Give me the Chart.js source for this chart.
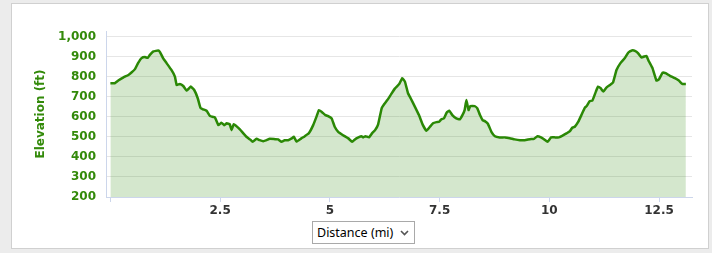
<!DOCTYPE html>
<html>
<head>
<meta charset="utf-8">
<script src="https://cdn.jsdelivr.net/npm/chart.js@4"></script>
<style>
  body { margin: 0; background: #ececec; width: 712px; height: 253px; overflow: hidden; }
  #panel { position: absolute; left: 11px; top: 3px; width: 696px; height: 244px; background: #fff; border: 1px solid #d0d0d0; }
  #elevation-chart { position: absolute; left: 0; top: 0; }
  #unit-select {
    position: absolute; left: 312px; top: 221px; width: 103px; height: 23px;
    font: 12.5px "Noto Sans", sans-serif; color: #000;
    border: 1px solid #a9a9a9; border-radius: 0; padding: 0 0 0 4px;
    -webkit-appearance: none; appearance: none;
    background: #fff url("data:image/svg+xml;utf8,<svg xmlns='http://www.w3.org/2000/svg' width='9' height='6'><path d='M1 1 L4.5 4.5 L8 1' fill='none' stroke='%23555' stroke-width='1.6'/></svg>") no-repeat right 5px center;
  }
</style>
</head>
<body>
<div id="panel"></div>
<canvas id="elevation-chart" width="712" height="253"></canvas>
<select id="unit-select"><option>Distance (mi)</option><option>Time</option></select>
<script>
// Elevation profile
const distanceMi = [
    0.00, 0.10, 0.18, 0.29, 0.41, 0.48, 0.56, 0.63, 0.71, 0.79, 0.85, 0.90, 0.98, 1.09, 1.13, 1.20,
    1.28, 1.39, 1.47, 1.51, 1.58, 1.66, 1.74, 1.83, 1.91, 1.99, 2.05, 2.11, 2.19, 2.27, 2.38, 2.46,
    2.53, 2.59, 2.65, 2.72, 2.76, 2.81, 2.87, 2.95, 3.03, 3.10, 3.18, 3.24, 3.33, 3.40, 3.48, 3.56,
    3.63, 3.75, 3.82, 3.90, 3.97, 4.05, 4.13, 4.18, 4.24, 4.35, 4.43, 4.52, 4.62, 4.70, 4.75, 4.81,
    4.90, 4.96, 5.04, 5.11, 5.19, 5.30, 5.42, 5.51, 5.57, 5.65, 5.72, 5.76, 5.81, 5.89, 5.96, 6.03,
    6.10, 6.18, 6.24, 6.31, 6.39, 6.48, 6.58, 6.65, 6.71, 6.78, 6.84, 6.93, 7.03, 7.12, 7.20, 7.28,
    7.35, 7.43, 7.49, 7.54, 7.60, 7.66, 7.72, 7.79, 7.88, 7.96, 8.02, 8.07, 8.11, 8.16, 8.20, 8.30,
    8.36, 8.42, 8.48, 8.53, 8.60, 8.68, 8.76, 8.87, 8.99, 9.10, 9.21, 9.33, 9.44, 9.56, 9.65, 9.73,
    9.81, 9.88, 9.96, 10.04, 10.13, 10.22, 10.32, 10.39, 10.47, 10.52, 10.58, 10.66, 10.73, 10.81, 10.85, 10.92,
    10.98, 11.06, 11.11, 11.17, 11.23, 11.30, 11.38, 11.45, 11.53, 11.62, 11.72, 11.80, 11.88, 11.95, 12.02, 12.10,
    12.16, 12.21, 12.27, 12.35, 12.44, 12.50, 12.58, 12.65, 12.74, 12.86, 12.95, 13.03, 13.11
];
const elevationFt = [
    767, 767, 780, 795, 808, 820, 837, 867, 892, 897, 893, 908, 925, 930, 922, 892,
    867, 833, 800, 758, 763, 753, 730, 750, 733, 692, 645, 637, 630, 603, 597, 558,
    570, 558, 567, 562, 533, 563, 553, 537, 517, 500, 487, 475, 490, 483, 478, 483,
    490, 488, 487, 475, 483, 483, 492, 500, 476, 492, 503, 517, 558, 603, 633, 625,
    608, 603, 592, 550, 525, 508, 492, 475, 487, 497, 503, 497, 503, 497, 517, 533,
    562, 642, 663, 683, 710, 740, 763, 792, 775, 717, 692, 653, 608, 558, 530, 550,
    567, 573, 575, 587, 592, 620, 630, 608, 592, 587, 608, 633, 683, 633, 653, 653,
    642, 608, 583, 578, 565, 525, 503, 497, 497, 493, 487, 483, 483, 488, 490, 503,
    497, 487, 475, 497, 497, 497, 508, 517, 528, 545, 550, 575, 608, 645, 653, 678,
    680, 725, 750, 742, 725, 745, 758, 770, 833, 867, 892, 920, 930, 928, 917, 895,
    900, 903, 875, 842, 780, 787, 820, 817, 805, 792, 780, 763, 763
];
const xTickValues = [0, 2.5, 5, 7.5, 10, 12.5];
const yTickValues = [200, 300, 400, 500, 600, 700, 800, 900, 1000];

const lineGreen = '#2a8805';
const labelGreen = '#338a0a';
const axisBlue = '#ccd6eb';

const drawChart = () => {
    const ctx = document.getElementById('elevation-chart').getContext('2d');
    const points = distanceMi.map((d, i) => ({ x: d, y: elevationFt[i] }));

    new Chart(ctx, {
        type: 'line',
        data: {
            datasets: [{
                data: points,
                borderColor: lineGreen,
                borderWidth: 2.5,
                backgroundColor: 'rgba(42, 136, 5, 0.2)',
                fill: 'start',
                pointRadius: 0,
                tension: 0.1,
            }]
        },
        options: {
            responsive: false,
            animation: false,
            layout: { padding: { top: 31, right: 20, left: 0, bottom: 0 } },
            plugins: { legend: { display: false }, tooltip: { enabled: false } },
            scales: {
                x: {
                    type: 'linear',
                    min: -0.1,
                    max: 13.25,
                    afterFit: scale => { scale.height = 56; },
                    afterBuildTicks: scale => { scale.ticks = xTickValues.map(v => ({ value: v })); },
                    grid: { drawOnChartArea: false, drawTicks: true, tickLength: 5, color: axisBlue },
                    border: { display: true, color: axisBlue },
                    ticks: {
                        padding: 2,
                        color: '#333',
                        font: { family: 'DejaVu Sans', size: 12, weight: 'bold' },
                        callback: v => (v === 0 ? '' : String(v)),
                    }
                },
                y: {
                    min: 200,
                    max: 1027,
                    afterFit: scale => { scale.width = 106; },
                    afterBuildTicks: scale => { scale.ticks = yTickValues.map(v => ({ value: v })); },
                    grid: { drawTicks: false, color: '#e6e6e6' },
                    border: { display: true, color: axisBlue },
                    ticks: {
                        padding: 10,
                        color: labelGreen,
                        font: { family: 'DejaVu Sans', size: 12, weight: 'bold' },
                        callback: v => v.toLocaleString('en-US'),
                    },
                    title: {
                        display: true,
                        text: 'Elevation (ft)',
                        color: labelGreen,
                        font: { family: 'DejaVu Sans', size: 12, weight: 'bold' },
                        padding: { top: 34, bottom: 0 },
                    }
                }
            }
        }
    });
};

window.onload = drawChart;
</script>
</body>
</html>
